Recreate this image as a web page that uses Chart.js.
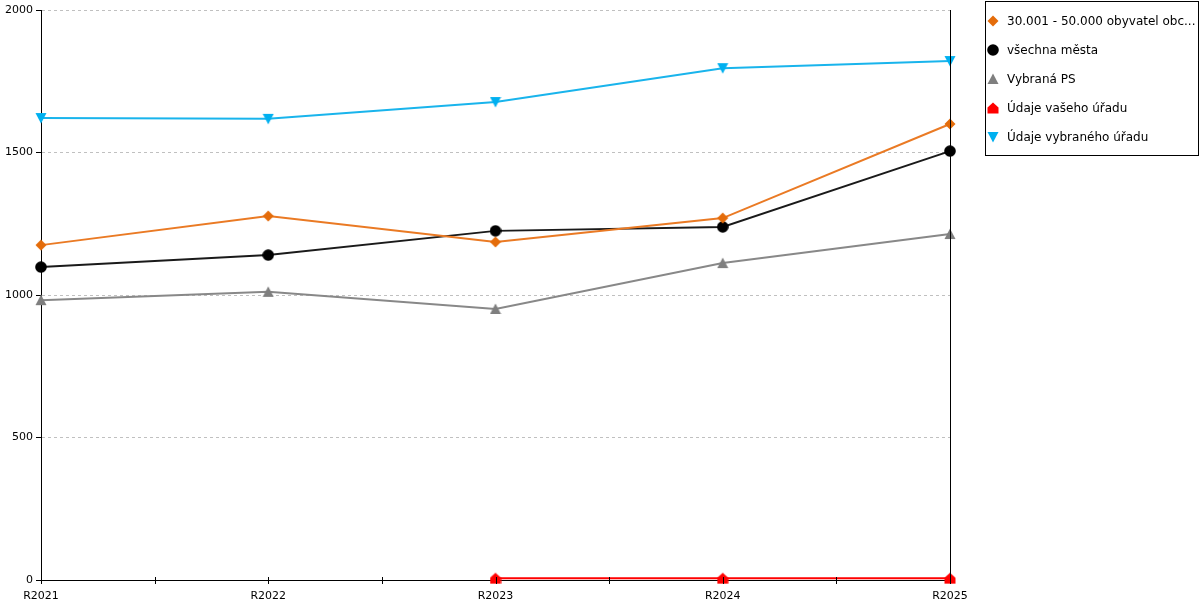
<!DOCTYPE html>
<html>
<head>
<meta charset="utf-8">
<script src="https://cdn.jsdelivr.net/npm/chart.js@4/dist/chart.umd.min.js"></script>
<style>
  html, body { margin: 0; padding: 0; background: #fff; }
  #wrap { width: 1200px; height: 600px; }
</style>
</head>
<body>
<div id="wrap"><canvas id="line-chart" width="1200" height="600"></canvas></div>
<script>
const years = ['R2021', 'R2022', 'R2023', 'R2024', 'R2025'];
const seriesNames = [
    '30.001 - 50.000 obyvatel obc...',
    'všechna města',
    'Vybraná PS',
    'Údaje vašeho úřadu',
    'Údaje vybraného úřadu'
];
const obceValues = [1175, 1277, 1186, 1270, 1600];
const mestaValues = [1098, 1140, 1225, 1239, 1505];
const psValues = [982, 1011, 951, 1112, 1214];
const vasUradValues = [null, null, 6, 6, 6];
const vybranyUradValues = [1621, 1618, 1677, 1796, 1821];
const yTicks = [0, 500, 1000, 1500, 2000];

// marker images, same ones are used in legend
function makeMarker(shape, color) {
    const c = document.createElement('canvas');
    c.width = 12;
    c.height = 12;
    const g = c.getContext('2d');
    g.fillStyle = color;
    g.beginPath();
    if (shape === 'diamond') {
        g.moveTo(6, 0.5); g.lineTo(11.5, 6); g.lineTo(6, 11.5); g.lineTo(0.5, 6);
    } else if (shape === 'circle') {
        g.arc(6, 6, 5.8, 0, Math.PI * 2);
    } else if (shape === 'up') {
        g.moveTo(6, 0.5); g.lineTo(11.5, 11); g.lineTo(0.5, 11);
    } else if (shape === 'down') {
        g.moveTo(0.5, 1); g.lineTo(11.5, 1); g.lineTo(6, 11.5);
    } else if (shape === 'house') {
        g.moveTo(6, 0.5); g.lineTo(11.5, 5.5); g.lineTo(11.5, 11.5); g.lineTo(0.5, 11.5); g.lineTo(0.5, 5.5);
    }
    g.closePath();
    g.fill();
    return c;
}

const markers = [
    makeMarker('diamond', '#e46c0a'),
    makeMarker('circle', '#000000'),
    makeMarker('up', '#7f7f7f'),
    makeMarker('house', '#ff0000'),
    makeMarker('down', '#00b0f0')
];

const frameAndLegend = {
    id: 'frameAndLegend',
    afterDraw(chart) {
        const ctx = chart.ctx;
        const area = chart.chartArea;
        const x = chart.scales.x;
        ctx.save();
        ctx.strokeStyle = '#000';
        ctx.lineWidth = 1;
        // right vertical line
        ctx.beginPath();
        ctx.moveTo(Math.round(area.right) + 0.5, area.top);
        ctx.lineTo(Math.round(area.right) + 0.5, area.bottom);
        ctx.stroke();
        // x tick marks at categories and between them
        ctx.beginPath();
        for (let i = 0; i < years.length; i++) {
            for (const off of [0, 0.5]) {
                if (i + off > years.length - 1) continue;
                const px = Math.round(x.getPixelForValue(i + off)) + 0.5;
                ctx.moveTo(px, area.bottom - 3);
                ctx.lineTo(px, area.bottom + 4);
            }
        }
        ctx.stroke();

        // legend box
        ctx.strokeRect(985.5, 1.5, 213, 154);
        ctx.font = '12px "DejaVu Sans"';
        ctx.fillStyle = '#000';
        ctx.textBaseline = 'middle';
        chart.data.datasets.forEach((ds, i) => {
            const cy = 21 + i * 29;
            ctx.drawImage(markers[i], 993 - 6, cy - 6);
            ctx.fillText(ds.label, 1007, cy + 1);
        });
        ctx.restore();
    }
};

function lineSet(label, data, color, marker) {
    return {
        label: label,
        data: data,
        borderColor: color,
        backgroundColor: color,
        borderWidth: 2,
        pointStyle: marker,
        pointRadius: 6,
        pointHoverRadius: 6,
        tension: 0,
        clip: false
    };
}

function initChart() {
    const ctx = document.getElementById('line-chart').getContext('2d');
    new Chart(ctx, {
        type: 'line',
        data: {
            labels: years,
            datasets: [
                lineSet(seriesNames[0], obceValues, '#ea7a24', markers[0]),
                lineSet(seriesNames[1], mestaValues, '#1a1a1a', markers[1]),
                lineSet(seriesNames[2], psValues, '#888888', markers[2]),
                lineSet(seriesNames[3], vasUradValues, '#ff0000', markers[3]),
                lineSet(seriesNames[4], vybranyUradValues, '#19b4ec', markers[4])
            ]
        },
        options: {
            responsive: false,
            animation: false,
            layout: { padding: { top: 10, right: 250, left: 0, bottom: 0 } },
            plugins: {
                legend: { display: false },
                tooltip: { enabled: false }
            },
            scales: {
                x: {
                    offset: false,
                    grid: { display: false },
                    border: { display: true, color: '#000', width: 1 },
                    ticks: {
                        color: '#000',
                        font: { family: 'DejaVu Sans', size: 11 },
                        padding: 2,
                        maxRotation: 0,
                        autoSkip: false
                    },
                    afterFit(scale) { scale.height = 20; }
                },
                y: {
                    min: 0,
                    max: 2000,
                    afterBuildTicks(scale) {
                        scale.ticks = yTicks.map(v => ({ value: v }));
                    },
                    grid: {
                        color: ctx => ctx.tick && ctx.tick.value === 0 ? 'rgba(0,0,0,0)' : '#c0c0c0',
                        tickColor: '#000',
                        tickLength: 5,
                        tickBorderDash: []
                    },
                    border: { display: true, color: '#000', width: 1, dash: [3, 3] },
                    ticks: {
                        color: '#000',
                        font: { family: 'DejaVu Sans', size: 11 },
                        padding: 3,
                        callback: v => String(v)
                    },
                    afterFit(scale) { scale.width = 41; }
                }
            }
        },
        plugins: [frameAndLegend]
    });
}

document.addEventListener('DOMContentLoaded', () => {
    initChart();
});
</script>
</body>
</html>
